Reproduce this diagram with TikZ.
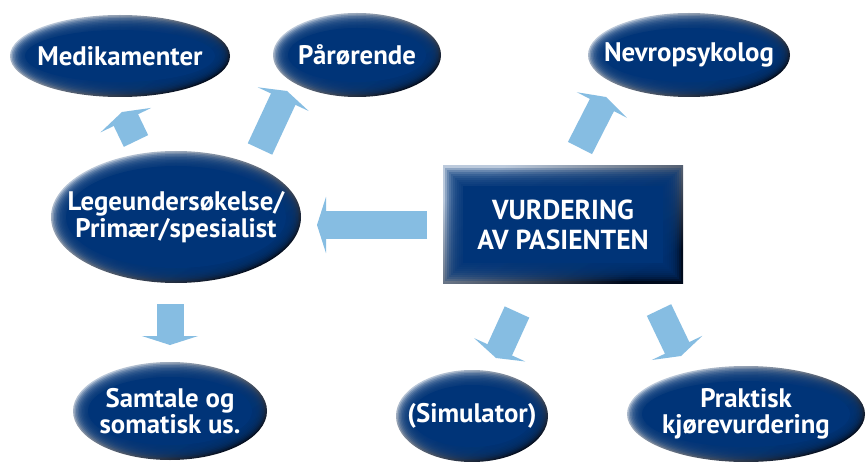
\documentclass[tikz,border=0pt]{standalone}
\usepackage{fontspec}
\setmainfont{PT Sans}
\usetikzlibrary{arrows.meta,shapes.geometric}
\definecolor{base}{HTML}{003478}
\definecolor{rimlight}{HTML}{BCCADC}
\definecolor{rimdark}{HTML}{000A1C}
\definecolor{arrowblue}{HTML}{86BDE2}
\tikzset{
  fatarrow/.style={line width=27pt, draw=arrowblue, -{Triangle[width=56pt,length=9pt]}},
  lbl/.style={text=white, align=center, font=\bfseries\fontsize{26.8}{26.5}\selectfont},
  boxlbl/.style={text=white, align=center, font=\bfseries\fontsize{27.5}{30}\selectfont},
  rimshade/.style={top color=rimlight, middle color=base, bottom color=rimdark, shading angle=30},
}
\newcommand\bubble[5]{%
  \begin{scope}
    \path[clip] (#2) ellipse [x radius=#3pt, y radius=#4pt];
    \shade[rimshade] (#2) ellipse [x radius=#3pt, y radius=#4pt];
    \foreach \d in {1.5,3,...,13.5}
      \fill[base, opacity=0.25] (#2) ellipse [x radius=#3pt-\d pt, y radius=#4pt-\d pt];
    \fill[base] (#2) ellipse [x radius=#3pt-15pt, y radius=#4pt-15pt];
  \end{scope}
  \node[ellipse, inner sep=0pt, minimum width=2*#3pt, minimum height=2*#4pt, lbl] (#1) at (#2) {#5};
}
\begin{document}
\begin{tikzpicture}[x=1pt, y=-1pt]
  \fill[white] (0,0) rectangle (866,462);
  \useasboundingbox (0,0) rectangle (866,462);

  % box
  \begin{scope}
    \clip (443,166) rectangle (683,283);
    \shade[rimshade] (443,166) rectangle (683,283);
    \foreach \d in {2,4,...,18}
      \fill[base, opacity=0.25] (443+\d,166+\d) rectangle (683-\d,283-\d);
    \fill[base] (463,186) rectangle (663,263);
  \end{scope}
  \node[rectangle, inner sep=0pt, minimum width=240pt, minimum height=117pt, boxlbl] (vurd) at (563,224.5) {VURDERING\\AV PASIENTEN};

  \bubble{medi}{120,56}{110}{41}{Medikamenter}
  \bubble{paro}{357,55}{84}{42}{Pårørende}
  \bubble{nevro}{689,55}{101}{42}{Nevropsykolog}
  \bubble{lege}{176,217}{125}{66}{Legeundersøkelse/\\Primær/spesialist}
  \bubble{samt}{170,411}{97}{49}{Samtale og\\somatisk us.}
  \bubble{simu}{472,416}{76}{46}{(Simulator)}
  \bubble{prak}{746,414}{119}{48}{Praktisk\\kjørevurdering}

  % arrow end points
  \coordinate (a1s) at (427,225); \coordinate (a1e) at (317,225);
  \coordinate (a2s) at (170,304); \coordinate (a2e) at (170,345);
  \coordinate (a3s) at (136,141); \coordinate (a3e) at (122,112);
  \coordinate (a4s) at (260,149); \coordinate (a4e) at (287,91);
  \coordinate (a5s) at (580,148); \coordinate (a5e) at (606,97);
  \coordinate (a6s) at (517,312); \coordinate (a6e) at (496,358);
  \coordinate (a7s) at (659,310); \coordinate (a7e) at (681,356);

  \draw[fatarrow] (a1s) -- (a1e);
  \draw[fatarrow] (a2s) -- (a2e);
  \draw[fatarrow] (a3s) -- (a3e);
  \draw[fatarrow] (a4s) -- (a4e);
  \draw[fatarrow] (a5s) -- (a5e);
  \draw[fatarrow] (a6s) -- (a6e);
  \draw[fatarrow] (a7s) -- (a7e);
\end{tikzpicture}
\end{document}
